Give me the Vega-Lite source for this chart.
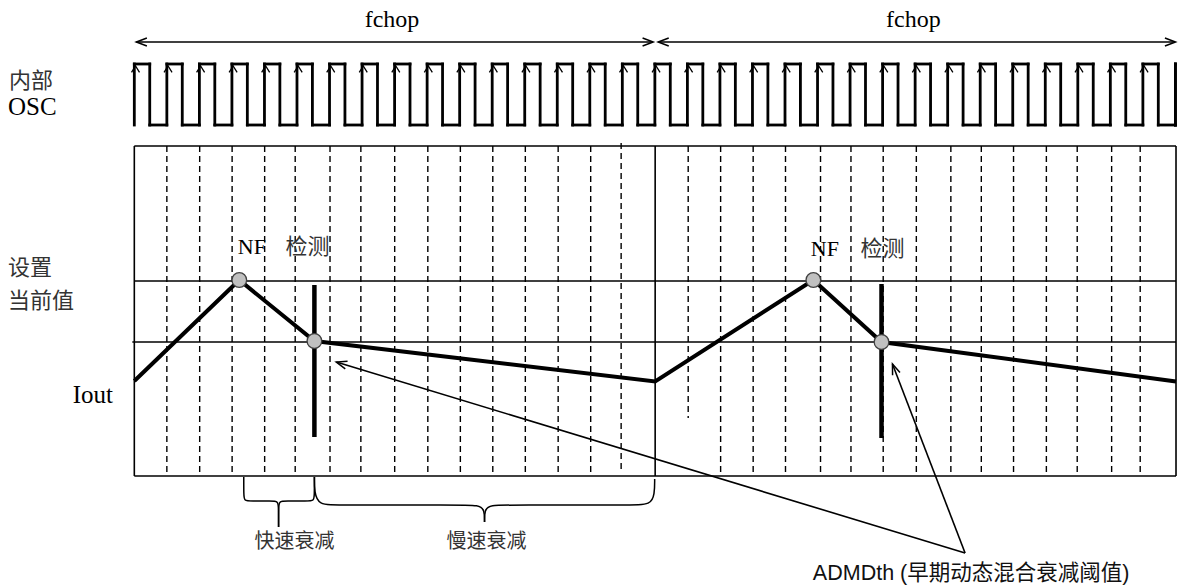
{
  "$schema": "https://vega.github.io/schema/vega-lite/v6.json",
  "width": 1184,
  "height": 585,
  "padding": 0,
  "autosize": {"type": "fit", "contains": "padding"},
  "background": "white",
  "config": {"view": {"stroke": null}},
  "datasets": {
    "frame": [
      {"x": 135, "y": 146, "x2": 1182, "y2": 146},
      {"x": 135, "y": 476, "x2": 1182, "y2": 476},
      {"x": 135, "y": 146, "x2": 135, "y2": 476},
      {"x": 1182, "y": 146, "x2": 1182, "y2": 476},
      {"x": 658.5, "y": 146, "x2": 658.5, "y2": 476},
      {"x": 135, "y": 281, "x2": 1182, "y2": 281},
      {"x": 133, "y": 342, "x2": 1182, "y2": 342},
      {"x": 137, "y": 42, "x2": 656, "y2": 42},
      {"x": 662, "y": 42, "x2": 1181, "y2": 42},
      {"x": 338, "y": 362, "x2": 970, "y2": 553},
      {"x": 897, "y": 364, "x2": 970, "y2": 553}
    ],
    "dash": [
      {"x": 167.7, "y": 146, "y2": 476}, {"x": 200.7, "y": 146, "y2": 476},
      {"x": 233.3, "y": 146, "y2": 476}, {"x": 266, "y": 146, "y2": 476},
      {"x": 296.7, "y": 146, "y2": 476}, {"x": 331.7, "y": 146, "y2": 476},
      {"x": 362.7, "y": 146, "y2": 476}, {"x": 396.7, "y": 146, "y2": 476},
      {"x": 430, "y": 146, "y2": 476}, {"x": 462.7, "y": 146, "y2": 476},
      {"x": 495.3, "y": 146, "y2": 476}, {"x": 528, "y": 146, "y2": 476},
      {"x": 561, "y": 146, "y2": 476}, {"x": 593.7, "y": 146, "y2": 476},
      {"x": 624.3, "y": 143, "y2": 470}, {"x": 691.7, "y": 146, "y2": 418},
      {"x": 724.3, "y": 146, "y2": 476}, {"x": 757, "y": 146, "y2": 476},
      {"x": 789.5, "y": 146, "y2": 476}, {"x": 824.7, "y": 146, "y2": 476},
      {"x": 855.3, "y": 146, "y2": 476}, {"x": 887.7, "y": 146, "y2": 476},
      {"x": 921, "y": 146, "y2": 476}, {"x": 955.7, "y": 146, "y2": 476},
      {"x": 986.3, "y": 146, "y2": 476}, {"x": 1018.7, "y": 146, "y2": 476},
      {"x": 1051.7, "y": 146, "y2": 476}, {"x": 1082.7, "y": 146, "y2": 476},
      {"x": 1117.3, "y": 146, "y2": 476}, {"x": 1146, "y": 146, "y2": 476}
    ],
    "clk": [
      {"x": 135.0, "xf": 150.5, "xn": 167.7}, {"x": 167.7, "xf": 183.2, "xn": 200.4},
      {"x": 200.4, "xf": 215.9, "xn": 233.1}, {"x": 233.1, "xf": 248.6, "xn": 265.8},
      {"x": 265.8, "xf": 281.3, "xn": 298.5}, {"x": 298.5, "xf": 314.0, "xn": 331.2},
      {"x": 331.2, "xf": 346.7, "xn": 363.9}, {"x": 363.9, "xf": 379.4, "xn": 396.6},
      {"x": 396.6, "xf": 412.1, "xn": 429.3}, {"x": 429.3, "xf": 444.8, "xn": 462.0},
      {"x": 462.0, "xf": 477.5, "xn": 494.7}, {"x": 494.7, "xf": 510.2, "xn": 527.4},
      {"x": 527.4, "xf": 542.9, "xn": 560.1}, {"x": 560.1, "xf": 575.6, "xn": 592.8},
      {"x": 592.8, "xf": 608.3, "xn": 625.5}, {"x": 625.5, "xf": 641.0, "xn": 658.2},
      {"x": 658.2, "xf": 673.7, "xn": 690.9}, {"x": 690.9, "xf": 706.4, "xn": 723.6},
      {"x": 723.6, "xf": 739.1, "xn": 756.3}, {"x": 756.3, "xf": 771.8, "xn": 789.0},
      {"x": 789.0, "xf": 804.5, "xn": 821.7}, {"x": 821.7, "xf": 837.2, "xn": 854.4},
      {"x": 854.4, "xf": 869.9, "xn": 887.1}, {"x": 887.1, "xf": 902.6, "xn": 919.8},
      {"x": 919.8, "xf": 935.3, "xn": 952.5}, {"x": 952.5, "xf": 968.0, "xn": 985.2},
      {"x": 985.2, "xf": 1000.7, "xn": 1017.9}, {"x": 1017.9, "xf": 1033.4, "xn": 1050.6},
      {"x": 1050.6, "xf": 1066.1, "xn": 1083.3}, {"x": 1083.3, "xf": 1098.8, "xn": 1116.0},
      {"x": 1116.0, "xf": 1131.5, "xn": 1148.7}, {"x": 1148.7, "xf": 1164.2, "xn": 1181.4},
      {"x": 1181.4, "xf": 1181.4, "xn": 1181.4}
    ],
    "iout": [
      {"x": 135, "y": 381}, {"x": 240.5, "y": 280}, {"x": 316, "y": 341},
      {"x": 658.5, "y": 381.5}, {"x": 817.5, "y": 280}, {"x": 886, "y": 342},
      {"x": 1182, "y": 381.5}
    ],
    "dots": [
      {"x": 240.5, "y": 280}, {"x": 316, "y": 341}, {"x": 817.5, "y": 280}, {"x": 886, "y": 342}
    ],
    "bars": [
      {"x": 316, "y": 285, "y2": 437}, {"x": 886, "y": 284, "y2": 438}
    ],
    "heads": [
      {"x": 137, "y": 42, "a": 270}, {"x": 656.5, "y": 42, "a": 90},
      {"x": 661.5, "y": 42, "a": 270}, {"x": 1181.5, "y": 42, "a": 90},
      {"x": 338, "y": 362, "a": 286.8}, {"x": 897, "y": 364, "a": 338.8}
    ],
    "brace": [
      {"g": "a", "i": 0, "x": 245, "y": 477}, {"g": "a", "i": 1, "x": 245, "y": 495},
      {"g": "a", "i": 2, "x": 245.5, "y": 501}, {"g": "a", "i": 3, "x": 252, "y": 501},
      {"g": "a", "i": 4, "x": 273, "y": 501}, {"g": "a", "i": 5, "x": 279.5, "y": 501},
      {"g": "a", "i": 6, "x": 280, "y": 508}, {"g": "a", "i": 7, "x": 280, "y": 527},
      {"g": "b", "i": 0, "x": 280, "y": 527}, {"g": "b", "i": 1, "x": 280, "y": 508},
      {"g": "b", "i": 2, "x": 280.5, "y": 501}, {"g": "b", "i": 3, "x": 287, "y": 501},
      {"g": "b", "i": 4, "x": 309, "y": 501}, {"g": "b", "i": 5, "x": 315.5, "y": 501},
      {"g": "b", "i": 6, "x": 316, "y": 495}, {"g": "b", "i": 7, "x": 316, "y": 477},
      {"g": "c", "i": 0, "x": 316, "y": 477}, {"g": "c", "i": 1, "x": 316, "y": 492},
      {"g": "c", "i": 2, "x": 320, "y": 505}, {"g": "c", "i": 3, "x": 340, "y": 505},
      {"g": "c", "i": 4, "x": 458, "y": 505}, {"g": "c", "i": 5, "x": 482, "y": 505},
      {"g": "c", "i": 6, "x": 487, "y": 510}, {"g": "c", "i": 7, "x": 487, "y": 522},
      {"g": "d", "i": 0, "x": 487, "y": 522}, {"g": "d", "i": 1, "x": 487, "y": 510},
      {"g": "d", "i": 2, "x": 492, "y": 505}, {"g": "d", "i": 3, "x": 516, "y": 505},
      {"g": "d", "i": 4, "x": 634, "y": 505}, {"g": "d", "i": 5, "x": 654, "y": 505},
      {"g": "d", "i": 6, "x": 658, "y": 494}, {"g": "d", "i": 7, "x": 658, "y": 479}
    ],
    "labels": [
      {"grp": "fchop", "x": 394, "y": 27, "t": "fchop"},
      {"grp": "fchop", "x": 918, "y": 27, "t": "fchop"},
      {"grp": "latin", "x": 8, "y": 115, "t": "OSC"},
      {"grp": "latin", "x": 73, "y": 403, "t": "Iout"},
      {"grp": "nf", "x": 239, "y": 254, "t": "NF"},
      {"grp": "nf", "x": 815, "y": 256, "t": "NF"},
      {"grp": "cjk", "x": 9, "y": 88, "t": "内部"},
      {"grp": "cjk", "x": 8, "y": 275, "t": "设置"},
      {"grp": "cjk", "x": 8, "y": 308, "t": "当前值"},
      {"grp": "cjk", "x": 287, "y": 254, "t": "检测"},
      {"grp": "cjk", "x": 865, "y": 256, "t": "检测"},
      {"grp": "brace", "x": 296, "y": 548, "t": "快速衰减"},
      {"grp": "brace", "x": 489, "y": 548, "t": "慢速衰减"},
      {"grp": "adm", "x": 817, "y": 580, "t": "ADMDth (早期动态混合衰减阈值)"}
    ]
  },
  "layer": [
    {
      "data": {"name": "dash"},
      "mark": {"type": "rule", "stroke": "black", "strokeWidth": 1.4, "strokeDash": [6, 4]},
      "encoding": {
        "x": {"field": "x", "type": "quantitative", "scale": {"domain": [0, 1184], "nice": false, "zero": false}, "axis": null},
        "y": {"field": "y", "type": "quantitative", "scale": {"domain": [0, 585], "nice": false, "zero": false, "reverse": true}, "axis": null},
        "y2": {"field": "y2"}
      }
    },
    {
      "data": {"name": "frame"},
      "mark": {"type": "rule", "stroke": "black", "strokeWidth": 1.6},
      "encoding": {
        "x": {"field": "x", "type": "quantitative", "scale": {"domain": [0, 1184], "nice": false, "zero": false}, "axis": null},
        "y": {"field": "y", "type": "quantitative", "scale": {"domain": [0, 585], "nice": false, "zero": false, "reverse": true}, "axis": null},
        "x2": {"field": "x2"},
        "y2": {"field": "y2"}
      }
    },
    {
      "data": {"name": "clk"},
      "mark": {"type": "rule", "stroke": "black", "strokeWidth": 2.8, "strokeCap": "square"},
      "encoding": {
        "x": {"field": "x", "type": "quantitative", "scale": {"domain": [0, 1184], "nice": false, "zero": false}, "axis": null},
        "y": {"datum": 64, "type": "quantitative", "scale": {"domain": [0, 585], "nice": false, "zero": false, "reverse": true}, "axis": null},
        "y2": {"datum": 125}
      }
    },
    {
      "data": {"name": "clk"},
      "mark": {"type": "rule", "stroke": "black", "strokeWidth": 2.8, "strokeCap": "square"},
      "encoding": {
        "x": {"field": "xf", "type": "quantitative", "scale": {"domain": [0, 1184], "nice": false, "zero": false}, "axis": null},
        "y": {"datum": 64, "type": "quantitative", "scale": {"domain": [0, 585], "nice": false, "zero": false, "reverse": true}, "axis": null},
        "y2": {"datum": 125}
      }
    },
    {
      "data": {"name": "clk"},
      "mark": {"type": "rule", "stroke": "black", "strokeWidth": 2.8, "strokeCap": "square"},
      "encoding": {
        "x": {"field": "x", "type": "quantitative", "scale": {"domain": [0, 1184], "nice": false, "zero": false}, "axis": null},
        "x2": {"field": "xf"},
        "y": {"datum": 64, "type": "quantitative", "scale": {"domain": [0, 585], "nice": false, "zero": false, "reverse": true}, "axis": null}
      }
    },
    {
      "data": {"name": "clk"},
      "mark": {"type": "rule", "stroke": "black", "strokeWidth": 2.8, "strokeCap": "square"},
      "encoding": {
        "x": {"field": "xf", "type": "quantitative", "scale": {"domain": [0, 1184], "nice": false, "zero": false}, "axis": null},
        "x2": {"field": "xn"},
        "y": {"datum": 125, "type": "quantitative", "scale": {"domain": [0, 585], "nice": false, "zero": false, "reverse": true}, "axis": null}
      }
    },
    {
      "data": {"name": "clk"},
      "transform": [{"filter": "datum.x < 1180"}],
      "mark": {"type": "point", "shape": "M-1,1.6L0,0L1,1.6", "filled": false, "stroke": "black", "strokeWidth": 1.3, "size": 64, "opacity": 1, "xOffset": 1.2},
      "encoding": {
        "x": {"field": "x", "type": "quantitative", "scale": {"domain": [0, 1184], "nice": false, "zero": false}, "axis": null},
        "y": {"datum": 66, "type": "quantitative", "scale": {"domain": [0, 585], "nice": false, "zero": false, "reverse": true}, "axis": null}
      }
    },
    {
      "data": {"name": "heads"},
      "mark": {"type": "point", "shape": "M-0.75,2L0,0L0.75,2", "filled": false, "stroke": "black", "strokeWidth": 1.5, "size": 112, "opacity": 1},
      "encoding": {
        "x": {"field": "x", "type": "quantitative", "scale": {"domain": [0, 1184], "nice": false, "zero": false}, "axis": null},
        "y": {"field": "y", "type": "quantitative", "scale": {"domain": [0, 585], "nice": false, "zero": false, "reverse": true}, "axis": null},
        "angle": {"field": "a", "type": "quantitative", "scale": null}
      }
    },
    {
      "data": {"name": "brace"},
      "mark": {"type": "line", "interpolate": "basis", "stroke": "black", "strokeWidth": 1.5},
      "encoding": {
        "x": {"field": "x", "type": "quantitative", "scale": {"domain": [0, 1184], "nice": false, "zero": false}, "axis": null},
        "y": {"field": "y", "type": "quantitative", "scale": {"domain": [0, 585], "nice": false, "zero": false, "reverse": true}, "axis": null},
        "detail": {"field": "g"},
        "order": {"field": "i"}
      }
    },
    {
      "data": {"name": "iout"},
      "mark": {"type": "line", "stroke": "black", "strokeWidth": 4, "strokeJoin": "miter"},
      "encoding": {
        "x": {"field": "x", "type": "quantitative", "scale": {"domain": [0, 1184], "nice": false, "zero": false}, "axis": null},
        "y": {"field": "y", "type": "quantitative", "scale": {"domain": [0, 585], "nice": false, "zero": false, "reverse": true}, "axis": null}
      }
    },
    {
      "data": {"name": "bars"},
      "mark": {"type": "rule", "stroke": "black", "strokeWidth": 4.5},
      "encoding": {
        "x": {"field": "x", "type": "quantitative", "scale": {"domain": [0, 1184], "nice": false, "zero": false}, "axis": null},
        "y": {"field": "y", "type": "quantitative", "scale": {"domain": [0, 585], "nice": false, "zero": false, "reverse": true}, "axis": null},
        "y2": {"field": "y2"}
      }
    },
    {
      "data": {"name": "dots"},
      "mark": {"type": "point", "shape": "circle", "filled": true, "fill": "#c0c0c0", "stroke": "#404040", "strokeWidth": 1.3, "size": 215, "opacity": 1},
      "encoding": {
        "x": {"field": "x", "type": "quantitative", "scale": {"domain": [0, 1184], "nice": false, "zero": false}, "axis": null},
        "y": {"field": "y", "type": "quantitative", "scale": {"domain": [0, 585], "nice": false, "zero": false, "reverse": true}, "axis": null}
      }
    },
    {
      "data": {"name": "labels"},
      "transform": [{"filter": "datum.grp == 'fchop'"}],
      "mark": {"type": "text", "font": "Liberation Serif", "fontSize": 24, "align": "center", "baseline": "alphabetic", "color": "black"},
      "encoding": {
        "x": {"field": "x", "type": "quantitative", "scale": {"domain": [0, 1184], "nice": false, "zero": false}, "axis": null},
        "y": {"field": "y", "type": "quantitative", "scale": {"domain": [0, 585], "nice": false, "zero": false, "reverse": true}, "axis": null},
        "text": {"field": "t"}
      }
    },
    {
      "data": {"name": "labels"},
      "transform": [{"filter": "datum.grp == 'latin'"}],
      "mark": {"type": "text", "font": "Liberation Serif", "fontSize": 25, "align": "left", "baseline": "alphabetic", "color": "black"},
      "encoding": {
        "x": {"field": "x", "type": "quantitative", "scale": {"domain": [0, 1184], "nice": false, "zero": false}, "axis": null},
        "y": {"field": "y", "type": "quantitative", "scale": {"domain": [0, 585], "nice": false, "zero": false, "reverse": true}, "axis": null},
        "text": {"field": "t"}
      }
    },
    {
      "data": {"name": "labels"},
      "transform": [{"filter": "datum.grp == 'nf'"}],
      "mark": {"type": "text", "font": "Liberation Serif", "fontSize": 22, "align": "left", "baseline": "alphabetic", "color": "black"},
      "encoding": {
        "x": {"field": "x", "type": "quantitative", "scale": {"domain": [0, 1184], "nice": false, "zero": false}, "axis": null},
        "y": {"field": "y", "type": "quantitative", "scale": {"domain": [0, 585], "nice": false, "zero": false, "reverse": true}, "axis": null},
        "text": {"field": "t"}
      }
    },
    {
      "data": {"name": "labels"},
      "transform": [{"filter": "datum.grp == 'cjk'"}],
      "mark": {"type": "text", "font": "Noto Sans CJK SC", "fontSize": 22, "align": "left", "baseline": "alphabetic", "color": "#333333"},
      "encoding": {
        "x": {"field": "x", "type": "quantitative", "scale": {"domain": [0, 1184], "nice": false, "zero": false}, "axis": null},
        "y": {"field": "y", "type": "quantitative", "scale": {"domain": [0, 585], "nice": false, "zero": false, "reverse": true}, "axis": null},
        "text": {"field": "t"}
      }
    },
    {
      "data": {"name": "labels"},
      "transform": [{"filter": "datum.grp == 'brace'"}],
      "mark": {"type": "text", "font": "Noto Sans CJK SC", "fontSize": 20, "align": "center", "baseline": "alphabetic", "color": "#333333"},
      "encoding": {
        "x": {"field": "x", "type": "quantitative", "scale": {"domain": [0, 1184], "nice": false, "zero": false}, "axis": null},
        "y": {"field": "y", "type": "quantitative", "scale": {"domain": [0, 585], "nice": false, "zero": false, "reverse": true}, "axis": null},
        "text": {"field": "t"}
      }
    },
    {
      "data": {"name": "labels"},
      "transform": [{"filter": "datum.grp == 'adm'"}],
      "mark": {"type": "text", "font": "Liberation Sans, Noto Sans CJK SC", "fontSize": 21.5, "align": "left", "baseline": "alphabetic", "color": "#111111"},
      "encoding": {
        "x": {"field": "x", "type": "quantitative", "scale": {"domain": [0, 1184], "nice": false, "zero": false}, "axis": null},
        "y": {"field": "y", "type": "quantitative", "scale": {"domain": [0, 585], "nice": false, "zero": false, "reverse": true}, "axis": null},
        "text": {"field": "t"}
      }
    }
  ]
}
